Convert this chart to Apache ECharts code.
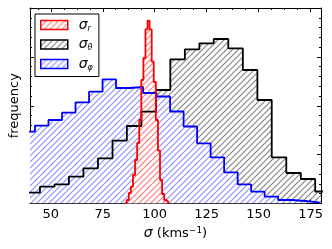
<!DOCTYPE html>
<html>
<head>
<meta charset="utf-8">
<script src="https://cdn.jsdelivr.net/npm/echarts@6/dist/echarts.min.js"></script>
<style>html,body{margin:0;padding:0;background:#fff;}#c{width:332px;height:249px;}</style>
</head>
<body>
<div id="c"></div>
<script>
// ---- data ----
const xMin = 40, xMax = 180;
const xMajorTicks = [50, 75, 100, 125, 150, 175];
const xMinorTicks = [43.75, 56.25, 62.5, 68.75, 81.25, 87.5, 93.75, 106.25, 112.5, 118.75, 131.25, 137.5, 143.75, 156.25, 162.5, 168.75];
const yMax = 195.5, yInterval = 48.875;

const sigmaREdges = [85.55, 86.55, 87.55, 88.55, 89.55, 90.55, 91.55, 92.55, 93.55, 94.55, 95.55, 96.55, 97.55, 98.55, 99.55, 100.55, 101.55, 102.55, 103.55, 104.55, 105.55, 106.55];
const sigmaRCounts = [1, 3.5, 10.5, 16.8, 28.5, 43.5, 60.5, 83.5, 123.5, 145.5, 174.2, 182.8, 174.2, 141.8, 121.5, 83.5, 53, 23.5, 9.5, 3.5, 1.5];

const sigmaThetaEdges = [37.8, 44.8, 51.8, 58.7, 65.7, 72.7, 79.7, 86.6, 93.6, 100.6, 107.5, 114.5, 121.5, 128.4, 135.4, 142.4, 149.4, 156.3, 163.3, 170.3, 177.2, 184.2];
const sigmaThetaCounts = [10.8, 16.8, 19.2, 26.8, 35.2, 45.2, 62.8, 77.5, 91.8, 113.5, 144.2, 154.2, 160.2, 164.5, 155.2, 133.5, 103.5, 46.2, 30.5, 24.5, 12];

const sigmaPhiEdges = [35.9, 42.4, 48.9, 55.4, 61.9, 68.4, 74.9, 81.4, 87.9, 94.4, 100.9, 107.4, 113.9, 120.4, 126.9, 133.4, 139.9, 146.4, 152.9, 159.4, 165.9, 172.4, 178.9];
const sigmaPhiCounts = [71.8, 77.8, 83.5, 90.8, 101.2, 111.8, 124.2, 115.5, 116.5, 110.5, 107, 92, 77, 60.2, 46.2, 31.2, 19.2, 11.8, 6.8, 3.5, 2.5, 1.2];

const seriesNames = ['σr', 'σθ', 'σφ'];
const seriesSubs = {'σr': 'r', 'σθ': 'θ', 'σφ': 'φ'};

// ---- helpers ----
function hatch(color, alpha, s, bg) {
  const c = document.createElement('canvas');
  c.width = s; c.height = s;
  const g = c.getContext('2d');
  if (bg) { g.fillStyle = bg; g.fillRect(0, 0, s, s); }
  g.globalAlpha = alpha;
  g.strokeStyle = color; g.lineWidth = 1.1;
  g.beginPath();
  g.moveTo(0, s); g.lineTo(s, 0);
  g.moveTo(-1, 1); g.lineTo(1, -1);
  g.moveTo(s - 1, s + 1); g.lineTo(s + 1, s - 1);
  g.stroke();
  return { image: c, repeat: 'repeat' };
}
function steps(edges, counts) {
  const pts = [[edges[0], 0]];
  for (let i = 0; i < counts.length; i++) pts.push([edges[i], counts[i]]);
  pts.push([edges[edges.length - 1], 0]);
  return pts;
}

const cols = { 'σr': '#ff0000', 'σθ': '#000000', 'σφ': '#0000ff' };
const pats = {
  'σr': hatch('#ff0000', 0.55, 6, '#ffffff'),
  'σθ': hatch('#000000', 0.5, 6, null),
  'σφ': hatch('#0000ff', 0.45, 6, '#ffffff')
};

const FONT = 'DejaVu Sans';
const chart = echarts.init(document.getElementById('c'), null, { renderer: 'canvas' });

function xAx(pos, major) {
  return {
    type: 'value', min: xMin, max: xMax, position: pos,
    axisLine: { show: major, lineStyle: { color: '#000', width: 1 } },
    axisTick: { show: true, inside: true, length: major ? 4 : 2, customValues: major ? xMajorTicks : xMinorTicks, lineStyle: { color: '#000', width: 1 } },
    axisLabel: { show: major && pos === 'bottom', customValues: xMajorTicks, margin: 5, color: '#000', fontFamily: FONT, fontSize: 13 },
    splitLine: { show: false },
    name: (major && pos === 'bottom') ? '{i|σ} (kms{sup|−1})' : '',
    nameLocation: 'middle', nameGap: 21,
    nameTextStyle: { color: '#000', fontFamily: FONT, fontSize: 13,
      rich: { i: { fontStyle: 'italic', fontFamily: FONT, fontSize: 14, color: '#000' },
              sup: { fontSize: 9, fontFamily: FONT, color: '#000', verticalAlign: 'top', lineHeight: 13, padding: [0, 0, 6, 0] } } }
  };
}
function yAx(pos) {
  return {
    type: 'value', min: 0, max: yMax, interval: yInterval, position: pos,
    axisLine: { show: true, lineStyle: { color: '#000', width: 1 } },
    axisTick: { show: true, inside: true, length: 4, lineStyle: { color: '#000' } },
    minorTick: { show: true, splitNumber: 5, length: 2, lineStyle: { color: '#000' } },
    axisLabel: { show: false },
    splitLine: { show: false },
    name: pos === 'left' ? 'frequency' : '',
    nameLocation: 'middle', nameGap: 9, nameRotate: 90,
    nameTextStyle: { color: '#000', fontFamily: FONT, fontSize: 13 }
  };
}

const dataMap = {
  'σr': steps(sigmaREdges, sigmaRCounts),
  'σθ': steps(sigmaThetaEdges, sigmaThetaCounts),
  'σφ': steps(sigmaPhiEdges, sigmaPhiCounts)
};
const drawOrder = ['σθ', 'σφ', 'σr'];

// hatched fills first, outlines on top
const areaSeries = drawOrder.map((n, i) => ({
  name: n, type: 'line', step: 'end', showSymbol: false, symbol: 'none',
  xAxisIndex: 0, yAxisIndex: 0, z: 1 + i, clip: true,
  data: dataMap[n],
  itemStyle: { color: cols[n] },
  lineStyle: { width: 0, opacity: 0 },
  areaStyle: { color: pats[n], opacity: 1 }
}));
const lineSeries = drawOrder.map((n, i) => ({
  name: n, type: 'line', step: 'end', showSymbol: false, symbol: 'none',
  xAxisIndex: 0, yAxisIndex: 0, z: 5 + i, clip: true,
  data: dataMap[n],
  itemStyle: { color: cols[n] },
  lineStyle: { color: cols[n], width: 1.8 }
}));

chart.setOption({
  animation: false,
  backgroundColor: '#fff',
  grid: { left: 29.3, right: 11, top: 8, bottom: 45.5, containLabel: false },
  xAxis: [xAx('bottom', true), xAx('bottom', false), xAx('top', true), xAx('top', false)],
  yAxis: [yAx('left'), yAx('right')],
  legend: {
    orient: 'vertical', left: 35, top: 14, z: 20,
    icon: 'rect', itemWidth: 27, itemHeight: 9, itemGap: 5,
    backgroundColor: '#fff', borderColor: '#000', borderWidth: 1, borderRadius: 0,
    padding: [4, 6, 5, 5], selectedMode: false,
    data: seriesNames.map(n => ({ name: n, itemStyle: { color: pats[n], borderColor: cols[n], borderWidth: 1.5 } })),
    formatter: n => '{s|σ}{b|' + seriesSubs[n] + '}',
    textStyle: {
      rich: {
        s: { fontFamily: FONT, fontStyle: 'italic', fontSize: 14, color: '#000', padding: [0, 0, 0, 6], lineHeight: 15 },
        b: { fontFamily: FONT, fontStyle: 'italic', fontSize: 8, color: '#000', verticalAlign: 'bottom', lineHeight: 9, padding: [5, 0, 0, 0] }
      }
    }
  },
  series: areaSeries.concat(lineSeries)
});
</script>
</body>
</html>
